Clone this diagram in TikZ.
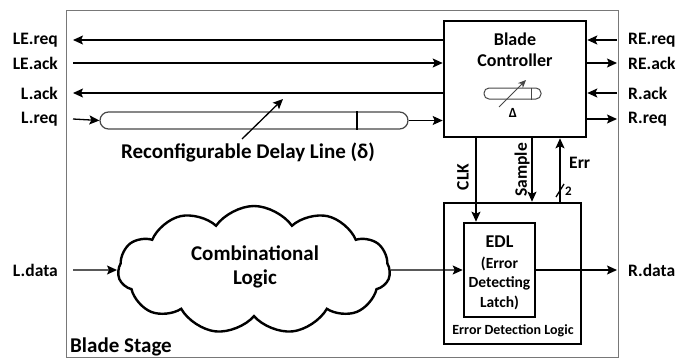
\documentclass[tikz,border=0pt]{standalone}
\usepackage{fontspec}
\setmainfont{Carlito}
\usetikzlibrary{positioning,shapes.symbols,arrows.meta}

\begin{document}
\begin{tikzpicture}[x=1pt,y=-1pt,
  sig/.style={line width=1.3pt},
  arr/.style={sig,-{Stealth[length=10pt,width=9pt,inset=2pt]}},
  pin/.style={font=\bfseries\fontsize{17.5}{18}\selectfont,inner sep=0pt},
  blk/.style={draw,line width=2.6pt,inner sep=0pt},
  big/.style={font=\bfseries\fontsize{21}{24}\selectfont,align=center,inner sep=0pt},
]

% === Colors ===
\definecolor{framegray}{RGB}{120,120,120}
\definecolor{pillgray}{RGB}{70,70,70}

\useasboundingbox (0,0) rectangle (679,359);

% === Blade stage frame ===
\draw[framegray, line width=1pt] (66,10) rectangle (618,357);
\node[big, anchor=west] (stage) at (70,347) {Blade Stage};

% === Blade controller ===
\node[blk, minimum width=142pt, minimum height=116pt] (ctrl) at (515,79) {};
\node[font=\bfseries\fontsize{18}{21}\selectfont, align=center, inner sep=0pt] (ctrltxt) at (515,50) {Blade\\Controller};
\node[draw=pillgray, line width=1pt, rounded corners=5pt, minimum width=57pt, minimum height=11pt, inner sep=0pt] (pill) at (512.5,93.5) {};
\draw[pillgray, line width=1pt] ([xshift=18.5pt]pill.north) -- ([xshift=18.5pt]pill.south);
\coordinate (tunea) at (499,107);
\coordinate (tuneb) at (526,80);
\draw[pillgray, line width=1pt, -{Stealth[length=8pt,width=7pt]}] (tunea) -- (tuneb);
\node[font=\bfseries\fontsize{14}{15}\selectfont, inner sep=0pt] (tunelbl) at (513,113) {Δ};

% === Left handshake signals ===
\foreach \name/\txt/\y in {lereq/LE.req/40, leack/LE.ack/63, lack/L.ack/93, lreq/L.req/119, ldata/L.data/270}{
  \node[pin, anchor=east] (\name) at (58,\y) {\txt};
  \coordinate (\name-in) at (73,\y);
}
\draw[arr] (ctrl.west |- lereq-in) -- (lereq-in);
\draw[arr] (leack-in) -- (ctrl.west |- leack-in);
\draw[arr] (ctrl.west |- lack-in) -- (lack-in);

% === Delay line ===
\node[draw=pillgray, line width=1.2pt, rounded corners=8.5pt, minimum width=308pt, minimum height=17pt, inner sep=0pt] (dline) at (254,120.5) {};
\draw[sig] ([xshift=103pt]dline.north) -- ([xshift=103pt]dline.south);
\draw[arr] (lreq-in) -- (dline.west);
\draw[arr] (dline.east) -- (ctrl.west |- dline.east);
\node[big] (dlinelbl) at (248,152) {Reconfigurable Delay Line (δ)};
\coordinate (dpoint) at (283,99);
\coordinate (dtail) at (242,139);
\draw[arr] (dtail) -- (dpoint);

% === Right handshake signals ===
\foreach \name/\txt/\y in {rereq/RE.req/40, reack/RE.ack/63, rack/R.ack/93, rreq/R.req/119, rdata/R.data/270}{
  \node[pin, anchor=west] (\name) at (628,\y) {\txt};
  \coordinate (\name-out) at (617,\y);
}
\draw[arr] (rereq-out) -- (ctrl.east |- rereq-out);
\draw[arr] (ctrl.east |- reack-out) -- (reack-out);
\draw[arr] (rack-out) -- (ctrl.east |- rack-out);
\draw[arr] (ctrl.east |- rreq-out) -- (rreq-out);

% === Combinational logic ===
\node[cloud, draw, line width=2.4pt, cloud puffs=11, cloud puff arc=110, aspect=2.1,
  minimum width=272pt, minimum height=128pt, inner sep=0pt] (logic) at (254,270) {};
\node[big] (logictxt) at (255,267) {Combinational\\Logic};
\draw[arr] (ldata-in) -- (logic.west);

% === Error detection logic ===
\node[blk, minimum width=137pt, minimum height=141pt] (edlogic) at (512.5,273.5) {};
\node[blk, minimum width=71pt, minimum height=94pt] (edl) at (499.5,270) {};
\node[font=\bfseries\fontsize{18}{20}\selectfont, inner sep=0pt] (edltxt) at (499.5,242) {EDL};
\node[font=\bfseries\fontsize{15.5}{19.5}\selectfont, align=center, inner sep=0pt] (edlsub) at (499.5,283) {(Error\\Detecting\\Latch)};
\node[font=\bfseries\fontsize{14}{16}\selectfont, inner sep=0pt] (edlogictxt) at (513,331) {Error Detection Logic};
\draw[arr] (logic.east) -- (edl.west);
\draw[arr] (edl.east) -- (rdata-out);

% === Controller <-> EDL ===
\draw[arr] (ctrl.south -| 476,0) -- (edl.north -| 476,0);
\draw[arr] (ctrl.south -| 532,0) -- (edlogic.north -| 532,0);
\draw[arr] (edlogic.north -| 560,0) -- (ctrl.south -| 560,0);
\node[pin, rotate=90] (clk) at (463,177) {CLK};
\node[pin, rotate=90] (sample) at (522,170) {Sample};
\node[pin, anchor=west] (err) at (569,163) {Err};
\draw[sig] (556,197) -- (564,184);
\node[font=\bfseries\fontsize{13}{14}\selectfont, inner sep=0pt, anchor=west] (errw) at (565,191) {2};

\end{tikzpicture}
\end{document}
